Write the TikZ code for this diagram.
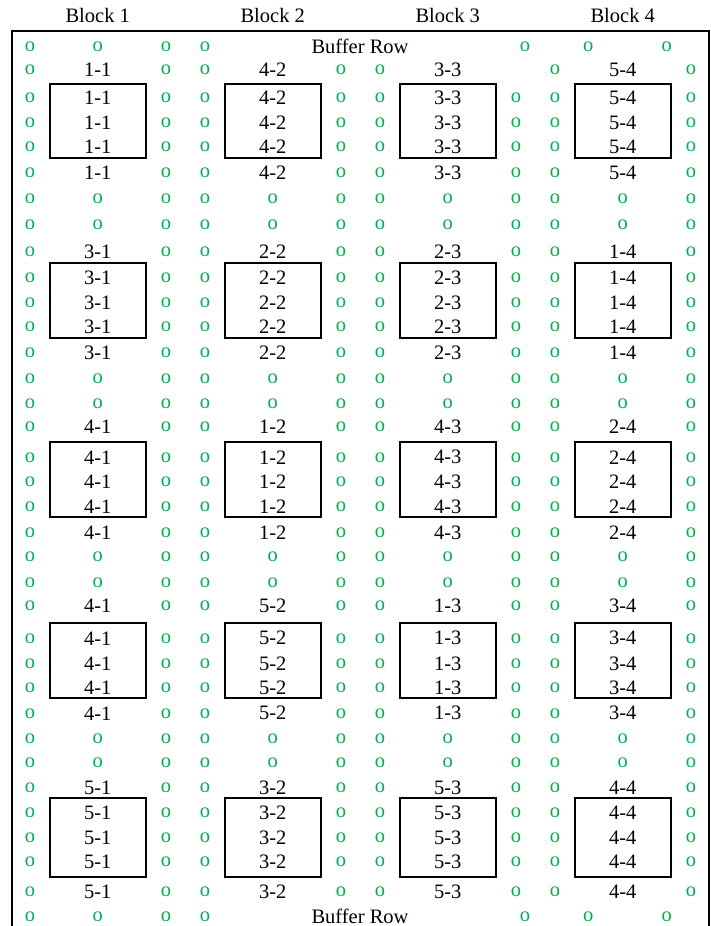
\documentclass[tikz,border=0pt]{standalone}
\usepackage{fontspec}
\setmainfont{Liberation Serif}
\definecolor{seedgreen}{RGB}{0,176,80}
\tikzset{
  cell/.style={inner sep=0pt},
  seed/.style={cell, text=seedgreen},
  plotbox/.style={draw, line width=1.7pt, minimum width=96pt, inner sep=0pt},
}

\begin{document}
\begin{tikzpicture}[x=1pt, y=-1pt, font=\fontsize{20.5}{24}\selectfont]
\useasboundingbox (0,0) rectangle (710,926);
% open frame
\draw[line width=1.8pt] (12,926) -- (12,31) -- (709,31) -- (709,926);
% block headers
\foreach \b in {1,...,4}
  \node[cell] (head-\b) at ({97.7+175*(\b-1)},15) {Block \b};
% buffer rows
\foreach \y/\n in {46.7/top, 916.7/bot} {
  \node[cell] (buffer-\n) at (360,\y) {Buffer Row};
  \foreach \x [count=\i] in {30,97.7,166,205,525,588.3,666.7}
    \node[seed] (buffer-\n-\i) at (\x,\y) {o};
}
% seeds beside every plot (gap in first row of block 3)
\foreach \y [count=\r] in {70,98,123,147,173,199,225,
    251.7,278,303,327,352.7,378.3,403.3,
    426.7,457.3,481.7,506.7,532.7,556.7,582.3,
    605.7,638.3,664,687.7,713.3,738.3,762.3,
    787.7,813,837.7,861.7,891.7}
  \foreach \b in {1,...,4} {
    \node[seed] (sl-\r-\b) at ({97.7+175*(\b-1)-67.7},\y) {o};
    \ifnum\r\b=13 \else
      \node[seed] (sr-\r-\b) at ({97.7+175*(\b-1)+68.3},\y) {o};
    \fi
  }
% seeds between the groups
\foreach \y [count=\r] in {199,225,378.3,403.3,556.7,582.3,738.3,762.3}
  \foreach \b in {1,...,4}
    \node[seed] (mid-\r-\b) at ({97.7+175*(\b-1)},\y) {o};
% plots
\foreach \g/\ya/\yb/\yc/\yd/\ye/\bc/\bh/\labs in {
    1/70/98/123/147/173/121/74/{1-1,4-2,3-3,5-4},
    2/251.7/278/303/327/352.7/300.5/75/{3-1,2-2,2-3,1-4},
    3/426.7/457.3/481.7/506.7/532.7/479.5/75/{4-1,1-2,4-3,2-4},
    4/605.7/638.3/664/687.7/713.3/660.5/75/{4-1,5-2,1-3,3-4},
    5/787.7/813/837.7/861.7/891.7/837.5/79/{5-1,3-2,5-3,4-4}}
  \foreach \lab [count=\b] in \labs {
    \node[plotbox, minimum height=\bh] (box-\g-\b) at ({97.7+175*(\b-1)},\bc) {};
    \foreach \y [count=\r] in {\ya,\yb,\yc,\yd,\ye}
      \node[cell] (lab-\g-\b-\r) at ({97.7+175*(\b-1)},\y) {\lab};
  }
\end{tikzpicture}
\end{document}
